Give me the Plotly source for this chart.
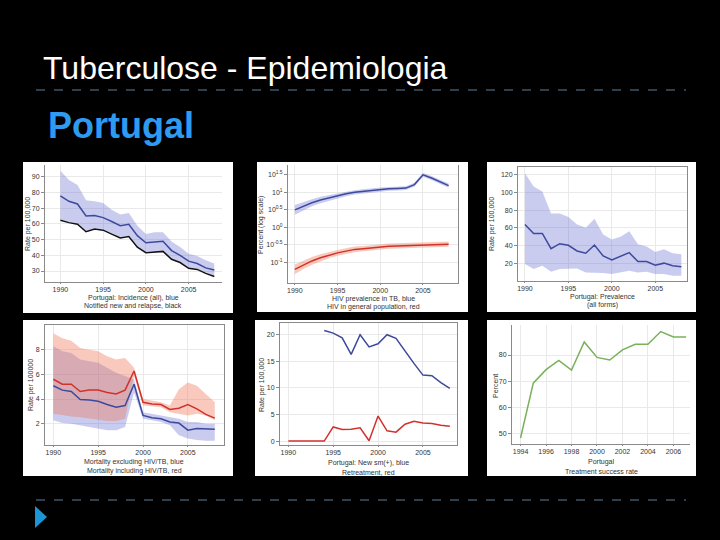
import plotly.graph_objects as go

W, H = 720, 540

# ---------------- data ----------------
years_90_08 = list(range(1990, 2009))

# Panel 1: incidence (blue) with band, notified (black)
inc_all = [77.9, 74.4, 72.7, 65.0, 65.4, 64.0, 61.5, 58.8, 59.8, 52.5, 48.0, 48.3, 49.0, 43.0, 40.0, 36.3, 34.8, 32.0, 30.6]
inc_hi = [93.8, 88.0, 84.8, 75.0, 74.4, 73.3, 69.0, 66.0, 67.0, 58.8, 53.5, 54.6, 54.6, 48.8, 45.3, 41.0, 39.6, 36.9, 34.8]
notified = [62.3, 60.8, 59.8, 55.0, 56.7, 56.0, 53.5, 51.0, 52.0, 45.2, 41.7, 42.0, 42.5, 37.5, 35.4, 31.7, 31.0, 28.5, 26.5]
inc_lo = [62.8, 61.3, 60.3, 55.5, 57.2, 56.5, 54.0, 51.5, 52.5, 45.7, 42.2, 42.5, 43.0, 38.0, 35.9, 32.2, 31.5, 29.0, 27.0]

# Panel 2: HIV prevalence (log10 of percent)
hiv_tb_log = [0.50, 0.61, 0.70, 0.78, 0.84, 0.91, 0.96, 1.00, 1.03, 1.06, 1.08, 1.10, 1.11, 1.12, 1.22, 1.50, 1.41, 1.30, 1.19]
hiv_tb_err = [0.14, 0.12, 0.10, 0.09, 0.08, 0.07, 0.07, 0.06, 0.06, 0.06, 0.055, 0.055, 0.055, 0.055, 0.055, 0.055, 0.055, 0.055, 0.06]
hiv_gen_log = [-1.20, -1.07, -0.96, -0.87, -0.79, -0.73, -0.68, -0.63, -0.61, -0.58, -0.56, -0.54, -0.53, -0.52, -0.50, -0.49, -0.49, -0.48, -0.48]
hiv_gen_err = [0.14, 0.12, 0.11, 0.10, 0.09, 0.085, 0.08, 0.08, 0.075, 0.075, 0.075, 0.075, 0.075, 0.075, 0.075, 0.075, 0.075, 0.075, 0.075]

# Panel 3: prevalence (all forms)
prev = [63.9, 53.8, 53.8, 36.6, 42.2, 40.4, 34.0, 31.4, 40.7, 28.4, 23.9, 28.4, 32.1, 22.1, 22.1, 17.9, 20.2, 17.2, 16.1]
prev_hi = [121.9, 106.9, 101.3, 76.3, 76.3, 72.5, 63.9, 60.2, 70.3, 52.7, 47.1, 50.1, 56.4, 41.5, 38.9, 32.9, 35.9, 31.4, 30.3]
prev_lo = [19.1, 13.5, 17.2, 10.5, 13.5, 14.2, 14.2, 9.7, 9.7, 9.0, 7.9, 9.7, 11.6, 9.7, 10.5, 7.9, 7.9, 6.0, 6.0]

# Panel 4: mortality
mort_inc = [5.60, 5.20, 5.20, 4.61, 4.72, 4.72, 4.53, 4.40, 4.72, 6.27, 3.73, 3.60, 3.55, 3.15, 3.25, 3.55, 3.20, 2.75, 2.45]
mort_inc_hi = [9.33, 8.93, 8.72, 8.13, 8.00, 7.87, 7.47, 7.20, 7.33, 6.53, 4.00, 3.87, 3.73, 3.47, 4.80, 5.33, 5.07, 4.40, 3.73]
mort_inc_lo = [2.80, 2.67, 2.59, 2.53, 2.40, 2.32, 2.21, 2.21, 2.40, 5.87, 3.47, 3.39, 3.33, 2.93, 2.80, 2.67, 2.80, 2.67, 2.27]
mort_exc = [5.07, 4.72, 4.61, 3.95, 3.92, 3.81, 3.55, 3.33, 3.47, 5.20, 2.67, 2.48, 2.40, 2.13, 2.05, 1.47, 1.60, 1.55, 1.55]
mort_exc_hi = [8.27, 7.87, 7.73, 7.20, 7.07, 6.93, 6.53, 6.13, 5.87, 5.60, 2.93, 2.80, 2.67, 2.53, 2.40, 2.13, 2.13, 2.00, 2.00]
mort_exc_lo = [2.27, 2.05, 2.00, 1.87, 1.73, 1.60, 1.47, 1.47, 1.73, 4.53, 2.40, 2.27, 2.13, 1.87, 1.07, 0.80, 0.67, 0.61, 0.61]

# Panel 5: new (blue) and retreatment (red)
years_new = list(range(1994, 2009))
new_rate = [20.8, 20.3, 19.4, 16.3, 20.0, 17.7, 18.3, 20.0, 19.3, 16.9, 14.6, 12.4, 12.3, 11.0, 9.9]
retreat_rate = [0.0, 0.0, 0.0, 0.0, 0.0, 2.66, 2.17, 2.23, 2.48, 0.06, 4.70, 1.92, 1.67, 3.16, 3.72, 3.40, 3.28, 2.97, 2.79]

# Panel 6: treatment success
years_ts = list(range(1994, 2008))
treat_success = [48.2, 69.2, 74.4, 77.9, 74.2, 85.0, 79.1, 78.1, 82.0, 84.1, 84.1, 89.0, 86.9, 86.9]

ticks_5y = [1990, 1995, 2000, 2005]
ticks_2y = [1994, 1996, 1998, 2000, 2002, 2004, 2006]

# ---------------- helpers ----------------
def px_x(p):
    return p / W

def px_y(p):
    return 1 - p / H

BLUE = "#3d4a9c"
BLUE_BAND = "rgba(100,110,210,0.35)"
RED = "#d0322a"
RED_BAND = "rgba(240,120,90,0.40)"
GREEN = "#79b15a"
TICKFONT = dict(family="Liberation Sans, Arial", size=7, color="#333333")
GRID = "#e9e9e9"

fig = go.Figure()

panels = {
    1: dict(x=(45, 222), y=(165, 282)),
    2: dict(x=(288, 458), y=(165, 283)),
    3: dict(x=(518, 687), y=(167, 281)),
    4: dict(x=(45, 224), y=(325, 445)),
    5: dict(x=(280, 457), y=(323, 445)),
    6: dict(x=(512, 690), y=(325, 444)),
}

def band(i, xs, lo, hi, color):
    ax = "" if i == 1 else str(i)
    fig.add_trace(go.Scatter(x=xs, y=lo, mode="lines", line=dict(width=0, color=color),
                             showlegend=False, hoverinfo="skip", xaxis="x" + ax, yaxis="y" + ax))
    fig.add_trace(go.Scatter(x=xs, y=hi, mode="lines", line=dict(width=0, color=color),
                             fill="tonexty", fillcolor=color, showlegend=False, hoverinfo="skip",
                             xaxis="x" + ax, yaxis="y" + ax))

def line(i, xs, ys, color, width=1.5):
    ax = "" if i == 1 else str(i)
    fig.add_trace(go.Scatter(x=xs, y=ys, mode="lines", line=dict(width=width, color=color),
                             showlegend=False, xaxis="x" + ax, yaxis="y" + ax))

# Panel 1
band(1, years_90_08, inc_lo, inc_hi, BLUE_BAND)
line(1, years_90_08, notified, "#111111")
line(1, years_90_08, inc_all, BLUE)

# Panel 2 (log scale)
tb_hi = [10 ** (v + e) for v, e in zip(hiv_tb_log, hiv_tb_err)]
tb_lo = [10 ** (v - e) for v, e in zip(hiv_tb_log, hiv_tb_err)]
gen_hi = [10 ** (v + e) for v, e in zip(hiv_gen_log, hiv_gen_err)]
gen_lo = [10 ** (v - e) for v, e in zip(hiv_gen_log, hiv_gen_err)]
band(2, years_90_08, tb_lo, tb_hi, BLUE_BAND)
line(2, years_90_08, [10 ** v for v in hiv_tb_log], BLUE)
band(2, years_90_08, gen_lo, gen_hi, RED_BAND)
line(2, years_90_08, [10 ** v for v in hiv_gen_log], RED)

# Panel 3
band(3, years_90_08, prev_lo, prev_hi, BLUE_BAND)
line(3, years_90_08, prev, BLUE)

# Panel 4
band(4, years_90_08, mort_exc_lo, mort_exc_hi, BLUE_BAND)
band(4, years_90_08, mort_inc_lo, mort_inc_hi, RED_BAND)
line(4, years_90_08, mort_exc, BLUE)
line(4, years_90_08, mort_inc, RED)

# Panel 5
line(5, years_new, new_rate, BLUE)
line(5, years_90_08, retreat_rate, RED)

# Panel 6
line(6, years_ts, treat_success, GREEN)

# ---------------- axes ----------------
axis_cfg = {
    1: dict(xr=[1988.2, 2008.9], yr=[23, 97.5], xt=ticks_5y, yt=[30, 40, 50, 60, 70, 80, 90], mx=False, my=False),
    2: dict(xr=[1989.2, 2009.1], yr=[-1.59, 1.78], xt=ticks_5y, yt=None, mx=False, my=True),
    3: dict(xr=[1989.2, 2008.65], yr=[0, 129], xt=ticks_5y, yt=[20, 40, 60, 80, 100, 120], mx=True, my=True),
    4: dict(xr=[1989.07, 2009.03], yr=[0.27, 10], xt=ticks_5y, yt=[2, 4, 6, 8], mx=True, my=True),
    5: dict(xr=[1989.07, 2008.8], yr=[-0.74, 22.2], xt=ticks_5y, yt=[0, 5, 10, 15, 20], mx=True, my=True),
    6: dict(xr=[1993.33, 2007.3], yr=[45.9, 91.5], xt=ticks_2y, yt=[50, 60, 70, 80], mx=False, my=False),
}

layout_axes = {}
for i, cfg in axis_cfg.items():
    p = panels[i]
    ax = "" if i == 1 else str(i)
    layout_axes["xaxis" + ax] = dict(
        domain=[px_x(p["x"][0]), px_x(p["x"][1])], anchor="y" + ax, range=cfg["xr"],
        tickvals=cfg["xt"], tickfont=TICKFONT, showgrid=True, gridcolor=GRID, zeroline=False,
        showline=True, linecolor="#8a8a8a", linewidth=1, mirror=cfg["mx"],
        ticks="outside", ticklen=1, tickcolor="#8a8a8a",
    )
    ycfg = dict(
        domain=[px_y(p["y"][1]), px_y(p["y"][0])], anchor="x" + ax, range=cfg["yr"],
        tickfont=TICKFONT, showgrid=True, gridcolor=GRID, zeroline=False,
        showline=True, linecolor="#8a8a8a", linewidth=1, mirror=cfg["my"],
        ticks="outside", ticklen=3, tickcolor="#8a8a8a",
    )
    if i == 2:
        exps = [-1, -0.5, 0, 0.5, 1, 1.5]
        ycfg.update(type="log", tickvals=[10 ** e for e in exps],
                    ticktext=["10<sup>%g</sup>" % e for e in exps])
    else:
        ycfg.update(tickvals=cfg["yt"])
    layout_axes["yaxis" + ax] = ycfg

fig.update_layout(**layout_axes)

# ---------------- slide decorations ----------------
shapes = []
boxes = [(23, 162, 233, 313), (257, 162, 468, 312), (487, 162, 696, 312),
         (23, 320, 233, 476), (255, 320, 468, 476), (487, 320, 696, 476)]
for x0, y0, x1, y1 in boxes:
    shapes.append(dict(type="rect", xref="paper", yref="paper", x0=px_x(x0), x1=px_x(x1),
                       y0=px_y(y1), y1=px_y(y0), fillcolor="white", line=dict(width=0), layer="below"))
for yy in (90, 500):
    shapes.append(dict(type="line", xref="paper", yref="paper", x0=px_x(36), x1=px_x(686),
                       y0=px_y(yy), y1=px_y(yy), line=dict(color="#5f7f98", width=1, dash="dash")))
shapes.append(dict(type="path", xref="paper", yref="paper",
                   path="M %f %f L %f %f L %f %f Z" % (px_x(35), px_y(506), px_x(35), px_y(528), px_x(47), px_y(517)),
                   fillcolor="#1b96d4", line=dict(width=0)))

ann = []
def text(x, y, s, size=7.5, color="#333333", angle=0, xanchor="center", family="Liberation Sans, Arial"):
    ann.append(dict(xref="paper", yref="paper", x=px_x(x), y=px_y(y), text=s, showarrow=False,
                    textangle=angle, xanchor=xanchor, yanchor="middle",
                    font=dict(size=size, color=color, family=family)))

text(41, 68, "Tuberculose - Epidemiologia", size=32, color="white", xanchor="left")
text(46, 125, "<b>Portugal</b>", size=36, color="#2e9bf0", xanchor="left")

# x titles
text(133, 298, "Portugal: Incidence (all), blue", size=7)
text(133, 306, "Notified new and relapse, black", size=7)
text(373, 299, "HIV prevalence in TB, blue", size=7)
text(373, 307, "HIV in general population, red", size=7)
text(602, 297, "Portugal: Prevalence", size=7)
text(602, 305, "(all forms)", size=7)
text(134, 462, "Mortality excluding HIV/TB, blue", size=7)
text(134, 471, "Mortality including HIV/TB, red", size=7)
text(368, 463, "Portugal: New sm(+), blue", size=7)
text(368, 472, "Retreatment, red", size=7)
text(601, 462, "Portugal", size=7)
text(601, 471, "Treatment success rate", size=7)

# y titles
text(28, 224, "Rate per 100,000", size=7, angle=-90)
text(261, 225, "Percent (log scale)", size=7, angle=-90)
text(492, 224, "Rate per 100,000", size=7, angle=-90)
text(31, 385, "Rate per 100000", size=7, angle=-90)
text(262, 385, "Rate per 100,000", size=7, angle=-90)
text(495, 386, "Percent", size=7, angle=-90)

fig.update_layout(
    width=W, height=H, margin=dict(l=0, r=0, t=0, b=0),
    paper_bgcolor="black", plot_bgcolor="white",
    shapes=shapes, annotations=ann, showlegend=False,
)

fig.write_html("out.html", config={"displayModeBar": False},
               post_script="document.body.style.margin='0';document.body.style.background='black';")
